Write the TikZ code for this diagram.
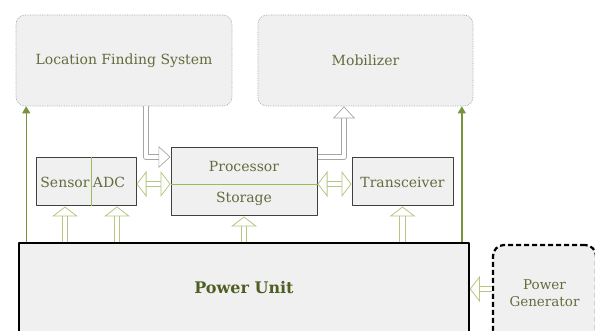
\documentclass[tikz,border=0pt]{standalone}
\usepackage{fontspec}
\setmainfont{DejaVu Serif}
\usetikzlibrary{arrows.meta,calc,positioning}
\definecolor{WSink}{HTML}{646B3C}
\definecolor{WSdeep}{HTML}{4F5F22}
\definecolor{WSgreen}{HTML}{77933C}
\definecolor{WSolive}{HTML}{B6C683}
\definecolor{WSrule}{HTML}{9BBB59}
\definecolor{WSgray}{HTML}{A6A6A6}
\definecolor{WSframe}{HTML}{404040}
\definecolor{WSsurface}{HTML}{F0F0F0}

\begin{document}
\begin{tikzpicture}[
  x=1pt,y=-1pt,
  font=\fontsize{14}{16}\selectfont,
  line join=round,
  cloudbox/.style={draw=WSgray,line width=0.7pt,densely dotted,rounded corners=9pt,
    fill=WSsurface,inner sep=0pt},
  unitbox/.style={draw=WSframe,line width=1pt,fill=WSsurface,inner sep=0pt},
  powerbox/.style={draw=black,line width=1.6pt,fill=WSsurface,inner sep=0pt},
  genbox/.style={draw=black,line width=2.2pt,dash pattern=on 5pt off 3pt,
    rounded corners=11pt,fill=WSsurface,inner sep=0pt,align=center},
  txt/.style={text=WSink,inner sep=0pt},
  rule/.style={draw=WSrule,line width=0.9pt},
  feed/.style={draw=WSgreen,line width=1.4pt,-{Triangle[length=7pt,width=8pt]}},
  hollow/.style={draw=WSolive,line width=0.8pt,double=white,double distance=4.5pt,
    -{Triangle[open,length=10pt,width=26pt]}},
  hollowboth/.style={hollow,{Triangle[open,length=10pt,width=26pt]}-{Triangle[open,length=10pt,width=26pt]}},
  signal/.style={draw=WSgray,line width=0.7pt,double=white,double distance=4.5pt,
    -{Triangle[open,length=12pt,width=22pt]}}
]
\useasboundingbox (0,0) rectangle (595,331);
\clip (0,0) rectangle (595,331);

% Top blocks
\node[cloudbox,minimum width=216,minimum height=91] (lfs) at (124,60.5) {};
\node[txt] at (lfs.center) {Location Finding System};
\node[cloudbox,minimum width=215,minimum height=91] (mob) at (365.5,60.5) {};
\node[txt] at (mob.center) {Mobilizer};

% Middle row
\node[unitbox,minimum width=100,minimum height=48] (sa) at (86,182) {};
\draw[rule] ([xshift=5pt]sa.north) -- ([xshift=5pt]sa.south);
\node[txt] (sensor) at (65,182) {Sensor};
\node[txt] (adc) at (109,182) {ADC};

\node[unitbox,minimum width=146,minimum height=68] (proc) at (244,182) {};
\draw[rule] ([yshift=-2pt]proc.west) -- ([yshift=-2pt]proc.east);
\node[txt] (processor) at (244,166) {Processor};
\node[txt] (storage) at (244,198.5) {Storage};

\node[unitbox,minimum width=101,minimum height=48] (trx) at (402.5,182) {};
\node[txt] at (trx.center) {Transceiver};

% Power
\node[powerbox,minimum width=450,minimum height=90] (pu) at (244,288) {};
\node[txt,text=WSdeep,font=\bfseries\fontsize{16}{18}\selectfont] at (pu.center) {Power Unit};
\node[genbox,minimum width=103,minimum height=96] (gen) at (544.5,293) {};
\node[txt,align=center,font=\fontsize{13.5}{17}\selectfont] at (gen.center) {Power\\Generator};

% Supply lines to the top blocks
\coordinate (gl) at ([xshift=8pt]pu.north west);
\coordinate (gr) at ([xshift=-8pt]pu.north east);
\draw[feed] (gl) -- (gl |- lfs.south);
\draw[feed] (gr) -- (gr |- mob.south);

% Power to the units
\coordinate (ps) at ([xshift=-21pt]sa.south);
\coordinate (pa) at ([xshift=31pt]sa.south);
\draw[hollow] (ps |- pu.north) -- (ps);
\draw[hollow] (pa |- pu.north) -- (pa);
\draw[hollow] (proc.south |- pu.north) -- (proc.south);
\draw[hollow] (trx.south |- pu.north) -- (trx.south);
\coordinate (gin) at ([yshift=4pt]gen.west);
\draw[hollow] (gin) -- (gin -| pu.east);

% Data paths
\draw[hollowboth] ([yshift=-2pt]sa.east) -- ([yshift=-2pt]proc.west);
\draw[hollowboth] ([yshift=-2pt]proc.east) -- ([yshift=-2pt]trx.west);
\coordinate (lfsout) at ([xshift=22pt]lfs.south);
\draw[signal] (lfsout) |- ([yshift=25pt]proc.west);
\draw[signal] ([yshift=25pt]proc.east) -| ([xshift=-21.5pt]mob.south);

\end{tikzpicture}
\end{document}
